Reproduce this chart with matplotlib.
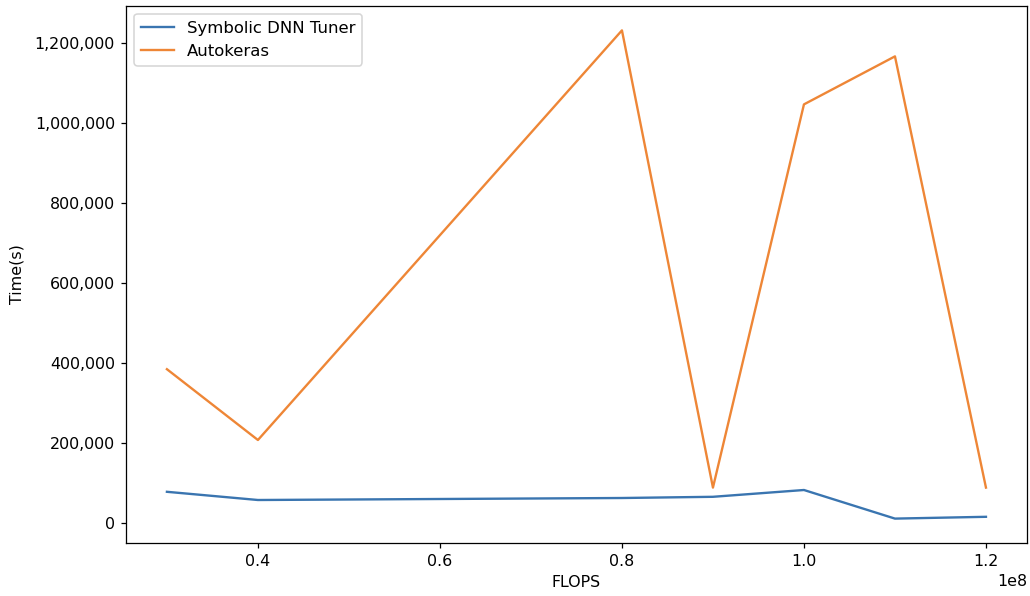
import matplotlib
matplotlib.use("Agg")
import matplotlib.pyplot as plt
from matplotlib.ticker import FuncFormatter

# FLOPS of each searched model and the wall time for each tuner
flops = [0.3e8, 0.4e8, 0.8e8, 0.9e8, 1.0e8, 1.1e8, 1.2e8]
time_symbolic = [77500, 57000, 62000, 65000, 82000, 10500, 15000]
time_autokeras = [384000, 207000, 1231000, 88000, 1046000, 1166000, 88000]

plt.rcParams['font.size'] = 10.1

fig = plt.figure(figsize=(1030 / 113, 596 / 113), dpi=113)
ax = fig.add_axes([0.1223, 0.0889, 0.8747, 0.9011])

ax.plot(flops, time_symbolic, color='#3a75b0', linewidth=1.5, label='Symbolic DNN Tuner')
ax.plot(flops, time_autokeras, color='#ee8636', linewidth=1.5, label='Autokeras')

ax.yaxis.set_major_formatter(FuncFormatter(lambda v, p: '{:,.0f}'.format(v)))
ax.set_xlabel('FLOPS')
ax.set_ylabel('Time(s)', labelpad=6.5)
ax.legend(loc='upper left', fontsize=10.5)

fig.savefig('out.png', dpi=113)
